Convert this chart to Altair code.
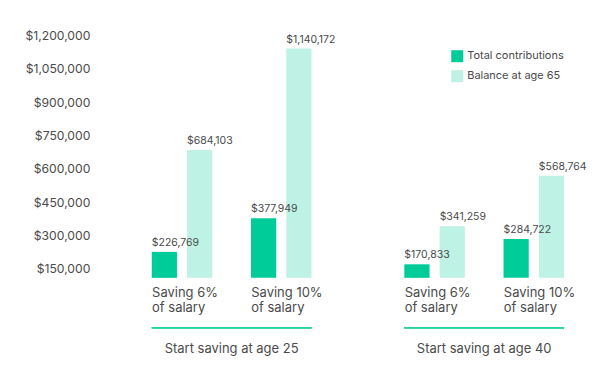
import altair as alt
import pandas as pd

groups = ["Start saving at age 25", "Start saving at age 40"]
rates = ["Saving 6%|of salary", "Saving 10%|of salary"]
series = ["Total contributions", "Balance at age 65"]
contributions = [226769, 377949, 170833, 284722]
balances = [684103, 1140172, 341259, 568764]
y_ticks = [150000, 300000, 450000, 600000, 750000, 900000, 1050000, 1200000]

rows = []
i = 0
for g in groups:
    for r in rates:
        rows.append({"group": g, "rate": r, "series": series[0], "value": contributions[i]})
        rows.append({"group": g, "rate": r, "series": series[1], "value": balances[i]})
        i += 1
df = pd.DataFrame(rows)

TEXT = "#4a4a4a"
C1 = "#00CC99"
C2 = "#BDF2E4"
LINE = "#2AD4A0"
FONT = "Inter"
W, H = 160, 243


def panel(group, show_y, legend):
    d = df[df["group"] == group]
    x_enc = alt.X(
        "rate:N", sort=rates,
        scale=alt.Scale(paddingInner=0.39, paddingOuter=0),
        axis=alt.Axis(title=None, labelAngle=0, labelAlign="left", labelOffset=-30,
                      labelExpr="split(datum.label, '|')", domain=False, ticks=False,
                      labelPadding=9, labelFontSize=13, labelColor=TEXT, labelFont=FONT,
                      labelLineHeight=15, labelBaseline="top"),
    )
    xo_enc = alt.XOffset("series:N", sort=series,
                         scale=alt.Scale(paddingInner=0.286, paddingOuter=0))
    y_axis = alt.Axis(values=y_ticks, format="$,.0f", title=None, domain=False, ticks=False,
                      grid=False, labelPadding=62, labelFontSize=12.2, labelColor=TEXT,
                      labelFont=FONT) if show_y else None
    y_enc = alt.Y("value:Q", scale=alt.Scale(domain=[110000, 1200000], zero=False, nice=False),
                  axis=y_axis)
    leg = alt.Legend(title=None, orient="none", legendX=300, legendY=15,
                     symbolType="square", symbolSize=144, symbolStrokeWidth=0,
                     labelFontSize=11, labelColor=TEXT, labelFont=FONT, rowPadding=8) if legend else None
    bars = alt.Chart(d).mark_bar().encode(
        x=x_enc, xOffset=xo_enc, y=y_enc, y2=alt.datum(110000),
        color=alt.Color("series:N", sort=series,
                        scale=alt.Scale(domain=series, range=[C1, C2]), legend=leg),
    )
    labels = alt.Chart(d).mark_text(align="left", baseline="bottom", dx=-12.6, dy=-4,
                                    fontSize=10.5, color=TEXT, font=FONT).encode(
        x=x_enc, xOffset=xo_enc, y=y_enc,
        text=alt.Text("value:Q", format="$,.0f"),
    )
    rule = alt.Chart(d).mark_rule(color=LINE, strokeWidth=1.5).encode(
        x=alt.value(0), x2=alt.value(W), y=alt.value(50 + H)
    )
    return alt.layer(bars, labels, rule).properties(
        width=W, height=H,
        title=alt.TitleParams(group, orient="bottom", anchor="middle", fontSize=13,
                              fontWeight="normal", color=TEXT, font=FONT, offset=15),
    )


chart = alt.hconcat(
    panel(groups[0], True, True), panel(groups[1], False, False),
    spacing=93, bounds="flush",
).resolve_scale(color="shared").properties(
    padding={"left": 16, "top": 21, "right": 5, "bottom": 5}
).configure_view(strokeWidth=0)

chart.save("out.html", embed_options={"renderer": "svg", "actions": False})
